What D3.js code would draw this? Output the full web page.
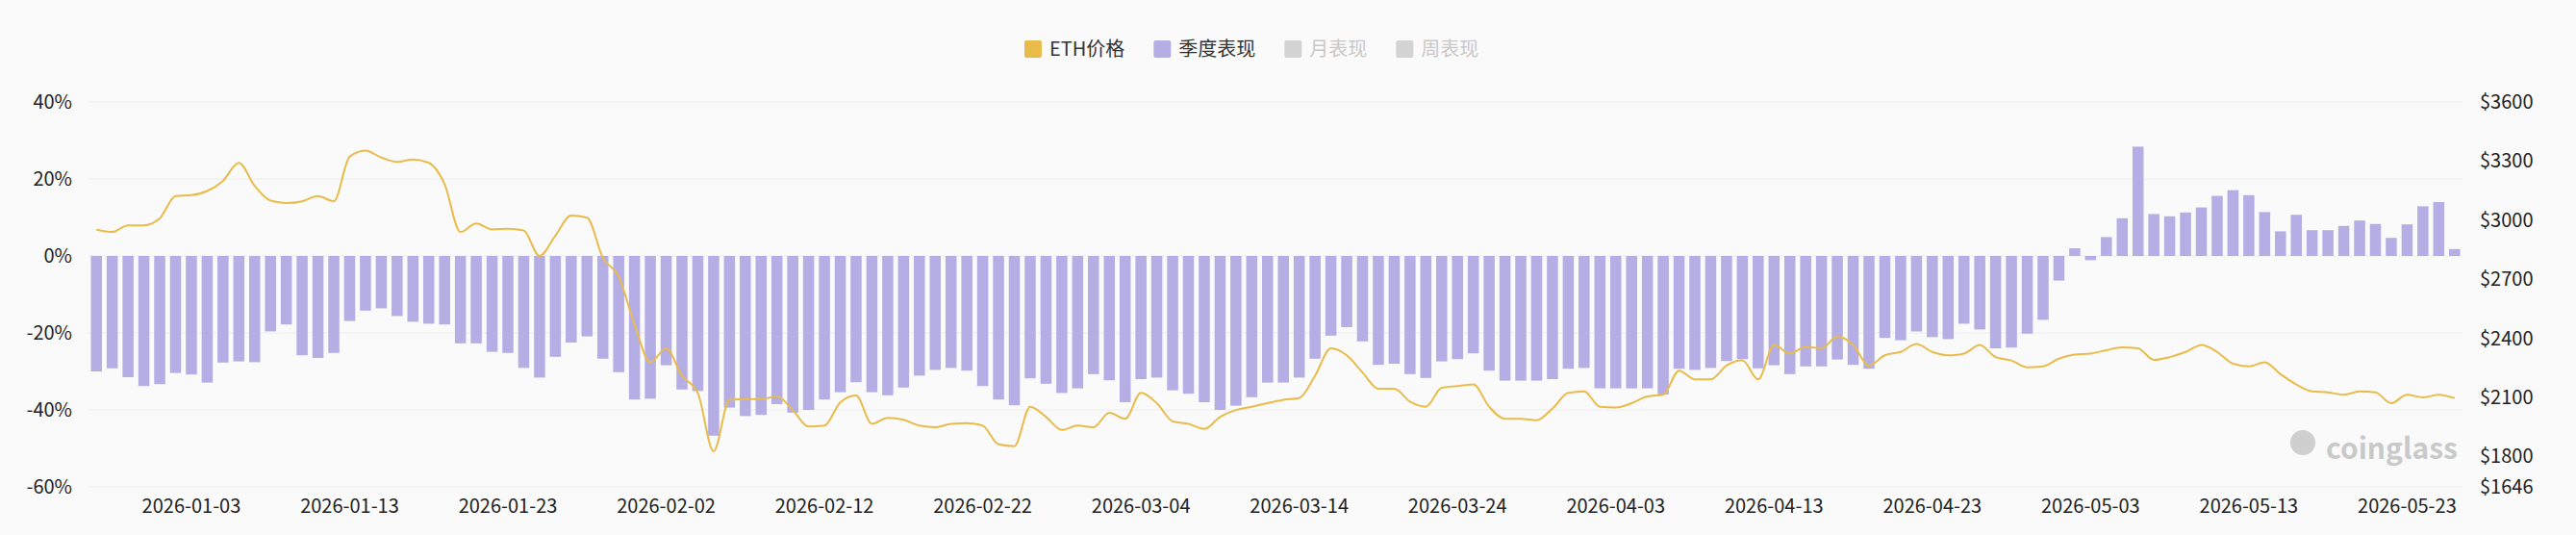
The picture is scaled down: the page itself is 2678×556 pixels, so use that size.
<!DOCTYPE html>
<html><head><meta charset="utf-8">
<script src="https://cdn.jsdelivr.net/npm/d3@7"></script>
<style>body{margin:0;background:#fafafa;}svg{display:block;font-family:"Noto Sans CJK SC","Noto Sans",sans-serif;}</style>
</head><body>
<svg id="c" width="2678" height="556"></svg>
<script>
const startDate = "2025-12-28";
const quarterly = [-30,-29.2,-31.5,-33.8,-33.3,-30.4,-30.8,-32.9,-27.7,-27.4,-27.6,-19.6,-17.8,-25.8,-26.5,-25.2,-16.9,-14.2,-13.6,-15.6,-17.1,-17.6,-17.8,-22.7,-22.7,-24.9,-25.2,-29.1,-31.6,-26.2,-22.5,-20.9,-26.7,-30.2,-37.3,-37.1,-28.4,-34.7,-35.1,-46.7,-39.4,-41.6,-41.3,-38.5,-40.7,-40,-37.3,-35.4,-32.8,
-35.4,-36.2,-34.2,-31.1,-29.6,-29.1,-29.8,-33.8,-37.3,-38.8,-31.8,-33.2,-35.6,-34.4,-30.7,-32.3,-38,-32,-31.6,-34.9,-35.8,-38,-40,-38.9,-36.7,-32.9,-32.9,-31.6,-26.7,-20.7,-18.5,-22.2,-28.3,-28,-30.7,-31.7,-27.4,-26.8,-25.3,-29.8,-32.4,-32.4,-32.4,-32,-29.3,-29.1,-34.4,-34.4,-34.4,-34.4,-36,-29.3,-29.6,
-29.1,-27.3,-26.8,-29.2,-28.4,-30.7,-28.7,-28.7,-26.9,-28.3,-29.3,-21.3,-21.9,-19.6,-21.1,-21.6,-17.6,-19.1,-24,-23.8,-20.2,-16.6,-6.4,2.0,-1.1,4.9,9.8,28.4,10.9,10.3,11.3,12.6,15.6,17.1,15.8,11.4,6.4,10.7,6.7,6.7,7.8,9.2,8.3,4.7,8.2,12.9,14,1.8];
const ethPrice = [2953,2940,2974,2974,3009,3122,3127,3148,3200,3291,3174,3099,3087,3096,3122,3096,3322,3353,3318,3296,3308,3291,3183,2940,2983,2953,2957,2948,2818,2922,3023,3013,2809,2714,2470,2279,2349,2210,2123,1827,2088,2092,2092,2105,2036,1952,1957,2075,2110,
1966,1997,1987,1957,1949,1966,1970,1957,1862,1853,2053,2001,1935,1957,1949,2022,1992,2123,2071,1979,1966,1940,2001,2036,2053,2071,2088,2097,2210,2349,2314,2227,2144,2144,2079,2053,2149,2158,2166,2053,1992,1992,1984,2044,2123,2131,2053,2049,2071,2105,2114,2236,2192,
2192,2262,2288,2192,2366,2323,2357,2349,2410,2366,2262,2314,2331,2371,2331,2314,2323,2366,2305,2288,2253,2258,2297,2318,2323,2340,2354,2349,2291,2305,2331,2366,2331,2271,2258,2279,2218,2166,2131,2126,2114,2131,2126,2071,2114,2100,2114,2097];
const leftTicks = [40,20,0,-20,-40,-60];
const rightTicks = [3600,3300,3000,2700,2400,2100,1800,1646];
const legendItems = [["ETH价格","#e9bb4b",true],["季度表现","#b4aee4",true],["月表现","#d3d3d3",false],["周表现","#d3d3d3",false]];

const parse = d3.timeParse("%Y-%m-%d"), fmt = d3.timeFormat("%Y-%m-%d");
const dates = quarterly.map((_,i)=>fmt(d3.timeDay.offset(parse(startDate),i)));
const svg = d3.select("#c");
const L=92,R=2560,T=106,B=506;
const x = d3.scaleBand().domain(dates).range([L,R]).paddingInner(0.3).paddingOuter(0.15);
const y = d3.scaleLinear().domain([-60,40]).range([B,T]);
const y2 = d3.scaleLinear().domain([1646,3600]).range([B,T]);

svg.append("g").selectAll("line").data(leftTicks).join("line")
  .attr("x1",L).attr("x2",R).attr("y1",d=>y(d)).attr("y2",d=>y(d)).attr("stroke","#ececec");
svg.append("g").selectAll("text").data(leftTicks).join("text")
  .attr("x",75).attr("y",d=>y(d)).attr("dy","0.35em").attr("text-anchor","end")
  .attr("font-size",20).attr("fill","#222").text(d=>d+"%");
svg.append("g").selectAll("text").data(rightTicks).join("text")
  .attr("x",2578).attr("y",d=>y2(d)).attr("dy","0.35em")
  .attr("font-size",20).attr("fill","#222").text(d=>"$"+d);

svg.append("g").selectAll("rect").data(quarterly).join("rect")
  .attr("x",(d,i)=>x(dates[i])).attr("width",x.bandwidth())
  .attr("y",d=>y(Math.max(0,d))).attr("height",d=>Math.abs(y(d)-y(0)))
  .attr("fill","#b4aee4");

const xTicks = dates.filter((d,i)=>i>=6 && (i-6)%10===0);
svg.append("g").selectAll("text").data(xTicks).join("text")
  .attr("x",d=>x(d)+x.bandwidth()/2).attr("y",533).attr("text-anchor","middle")
  .attr("font-size",20).attr("fill","#222").text(d=>d);

// watermark
svg.append("text").attr("x",2418).attr("y",466).attr("dy","0.35em").attr("font-size",30)
  .attr("font-weight","bold").attr("fill","#c9c9c9").text("coinglass");
svg.append("circle").attr("cx",2394).attr("cy",460).attr("r",13).attr("fill","#cfcfcf");

svg.append("path").datum(ethPrice).attr("fill","none").attr("stroke","#e9bb4b").attr("stroke-width",2)
  .attr("d",d3.line().x((d,i)=>x(dates[i])+x.bandwidth()/2).y(d=>y2(d)).curve(d3.curveMonotoneX));

const lg = svg.append("g");
let lx=1065;
legendItems.forEach(([t,c,on])=>{
  lg.append("rect").attr("x",lx).attr("y",42).attr("width",18).attr("height",18).attr("rx",2).attr("fill",c);
  const tx=lg.append("text").attr("x",lx+26).attr("y",51).attr("dy","0.35em").attr("font-size",20)
    .attr("fill",on?"#333":"#c8c8c8").text(t);
  lx += 26 + tx.node().getComputedTextLength() + 30;
});
</script></body></html>
